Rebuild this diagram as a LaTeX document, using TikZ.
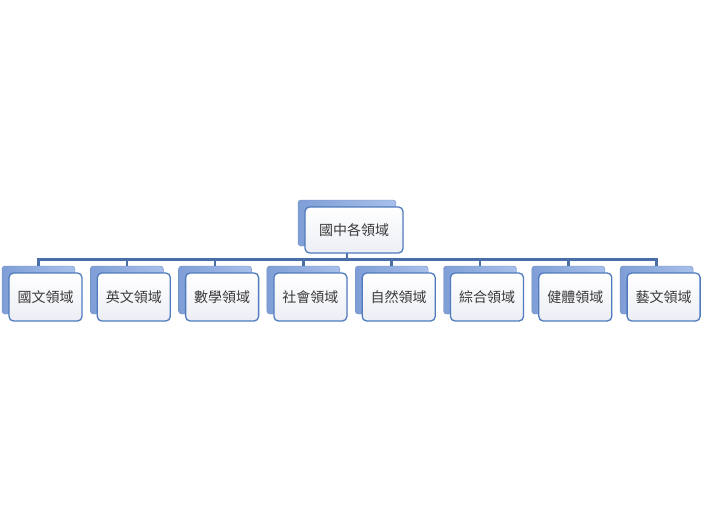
\documentclass[tikz,border=0pt]{standalone}
\usepackage{fontspec}
\newfontfamily\cjk{Noto Sans CJK TC}
\definecolor{conncol}{HTML}{4A6FA8}
\definecolor{backL}{HTML}{7F9ED6}
\definecolor{backR}{HTML}{A8C0EA}
\definecolor{frontdraw}{HTML}{4F7BBE}
\definecolor{frontbot}{HTML}{ECEEF5}
\definecolor{txt}{HTML}{3A3A3A}
\tikzset{
  conn/.style={draw=conncol, line width=2.6pt},
  backbox/.style={rectangle, rounded corners=3pt, left color=backL, right color=backR, draw=backL!90!black, line width=0.4pt, inner sep=0pt},
  frontbox/.style={rectangle, rounded corners=4.5pt, draw=frontdraw, line width=1.3pt, top color=white, bottom color=frontbot, inner sep=0pt, font=\cjk\fontsize{14}{16}\selectfont, text=txt},
}
\begin{document}
\begin{tikzpicture}[x=1pt,y=-1pt]
\useasboundingbox (0,0) rectangle (701,519);
% root
\node[backbox, minimum width=98pt, minimum height=46pt] (rb) at (347,223) {};
\foreach \i/\t in {0/國文領域,1/英文領域,2/數學領域,3/社會領域,4/自然領域,5/綜合領域,6/健體領域,7/藝文領域}{
  \pgfmathsetmacro{\bx}{38.5+88.3*\i}
  \pgfmathsetmacro{\fx}{45.5+88.3*\i}
  \node[backbox, minimum width=73pt, minimum height=48pt] (cb\i) at (\bx,290) {};
  \draw[conn] (rb.south) -- ++(0,13) -| (cb\i.north);
}
\node[frontbox, minimum width=98pt, minimum height=46pt] (rf) at (354,230) {國中各領域};
\foreach \i/\t in {0/國文領域,1/英文領域,2/數學領域,3/社會領域,4/自然領域,5/綜合領域,6/健體領域,7/藝文領域}{
  \pgfmathsetmacro{\fx}{45.5+88.3*\i}
  \node[frontbox, minimum width=73pt, minimum height=48pt] (cf\i) at (\fx,297) {\t};
}
\end{tikzpicture}
\end{document}
